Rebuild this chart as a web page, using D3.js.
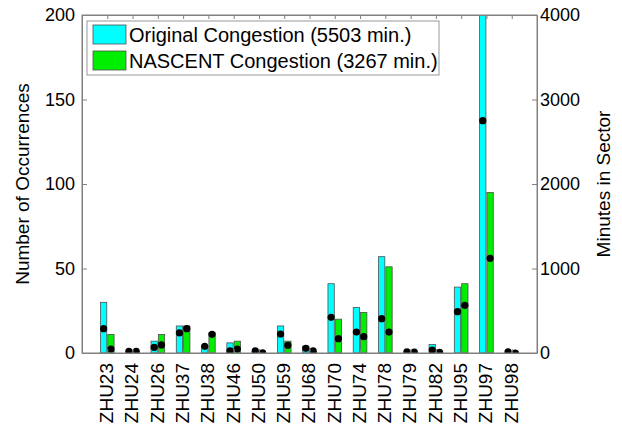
<!DOCTYPE html>
<html><head><meta charset="utf-8">
<script src="https://cdn.jsdelivr.net/npm/d3@7"></script>
<style>body{margin:0;background:#fff}text{font-family:"Liberation Sans",Arial,sans-serif}</style>
</head><body><svg id="c" width="622" height="431"></svg>
<script>
const categories = ["ZHU23","ZHU24","ZHU26","ZHU37","ZHU38","ZHU46","ZHU50","ZHU59","ZHU68","ZHU70","ZHU74","ZHU78","ZHU79","ZHU82","ZHU95","ZHU97","ZHU98"];
const originalCount = [30,0,7,16,4,6,1,16,4,41,27,57,0,5,39,205,0];
const nascentCount  = [11,0,11,16,12,7,0,7,1,20,24,51,0,1,41,95,0];
const originalMinutes = [288,20,67,237,79,24,24,225,55,422,248,406,15,35,489,2749,15];
const nascentMinutes  = [47,20,95,288,221,47,3,91,24,170,193,248,10,8,564,1121,0];
const leftTicks = [0,50,100,150,200];
const rightTicks = [0,1000,2000,3000,4000];
const legendLabels = ["Original Congestion (5503 min.)","NASCENT Congestion (3267 min.)"];

const svg = d3.select("#c");
const L=82,R=537,T=15,B=353;
const x = d3.scaleLinear().domain([0,categories.length+1]).range([L,R]);
const yL = d3.scaleLinear().domain([0,200]).range([B,T]);
const yR = d3.scaleLinear().domain([0,4000]).range([B,T]);
const unit = x(1)-x(0);
const bw = 0.25*unit, off = 0.145*unit;
const axisCol="#808080";
const cyan="#00ffff", green="#00ee00", edge="#505050";

svg.append("clipPath").attr("id","pc").append("rect").attr("x",L).attr("y",T).attr("width",R-L).attr("height",B-T);
const g = svg.append("g").attr("clip-path","url(#pc)");

const series=[{v:originalCount,m:originalMinutes,c:cyan,o:-off},{v:nascentCount,m:nascentMinutes,c:green,o:off}];
series.forEach(s=>{
  g.selectAll(null).data(s.v).enter().append("rect")
    .attr("x",(d,i)=>x(i+1)+s.o-bw/2).attr("width",bw)
    .attr("y",d=>yL(d)).attr("height",d=>B-yL(d))
    .attr("fill",s.c).attr("stroke",edge).attr("stroke-width",0.8)
    .style("display",d=>d>0?null:"none");
});
series.forEach(s=>{
  g.selectAll(null).data(s.m).enter().append("circle")
    .attr("cx",(d,i)=>x(i+1)+s.o).attr("cy",d=>yR(d)).attr("r",3.6).attr("fill","#000");
});

// box
svg.append("rect").attr("x",L).attr("y",T).attr("width",R-L).attr("height",B-T)
  .attr("fill","none").attr("stroke",axisCol).attr("stroke-width",1);

// axes
const fs=18;
const axL = svg.append("g").attr("transform",`translate(${L},0)`)
  .call(d3.axisLeft(yL).tickValues(leftTicks).tickSizeInner(-5).tickSizeOuter(0).tickPadding(7).tickFormat(d3.format("d")));
const axR = svg.append("g").attr("transform",`translate(${R},0)`)
  .call(d3.axisRight(yR).tickValues(rightTicks).tickSizeInner(-5).tickSizeOuter(0).tickPadding(3).tickFormat(d3.format("d")));
const xs = d3.range(1,categories.length+1);
const axT = svg.append("g").attr("transform",`translate(0,${T})`)
  .call(d3.axisTop(x).tickValues(xs).tickSizeInner(-4).tickSizeOuter(0).tickFormat(""));
const axB = svg.append("g").attr("transform",`translate(0,${B})`)
  .call(d3.axisBottom(x).tickValues(xs).tickSizeInner(-4).tickSizeOuter(0).tickFormat(""));
[axL,axR,axT,axB].forEach(a=>{
  a.select(".domain").attr("stroke",axisCol);
  a.selectAll(".tick line").attr("stroke",axisCol);
  a.selectAll("text").attr("fill","#000").style("font-size",fs+"px").style("font-family","Liberation Sans, Arial, sans-serif");
});

// x labels rotated
svg.selectAll(null).data(categories).enter().append("text")
  .attr("transform",(d,i)=>`translate(${x(i+1)-1},363) rotate(-90)`)
  .attr("text-anchor","end").attr("dy","0.36em")
  .style("font-size","19px").text(d=>d);

// axis titles
svg.append("text").attr("transform",`translate(29,${(T+B)/2}) rotate(-90)`)
  .attr("text-anchor","middle").style("font-size","19px").text("Number of Occurrences");
svg.append("text").attr("transform",`translate(597,${(T+B)/2}) rotate(-90)`)
  .attr("text-anchor","middle").attr("dy","0.7em").style("font-size","19px").text("Minutes in Sector");

// legend
const lg = svg.append("g");
lg.append("rect").attr("x",87).attr("y",21).attr("width",352).attr("height",54)
  .attr("fill","#fff").attr("stroke","#999").attr("stroke-width",1);
[cyan,green].forEach((c,i)=>{
  lg.append("rect").attr("x",93).attr("y",25+i*26).attr("width",33).attr("height",19)
    .attr("fill",c).attr("stroke",edge).attr("stroke-width",0.8);
  lg.append("text").attr("x",129).attr("y",42+i*26).style("font-size","20px").text(legendLabels[i]);
});
</script></body></html>
